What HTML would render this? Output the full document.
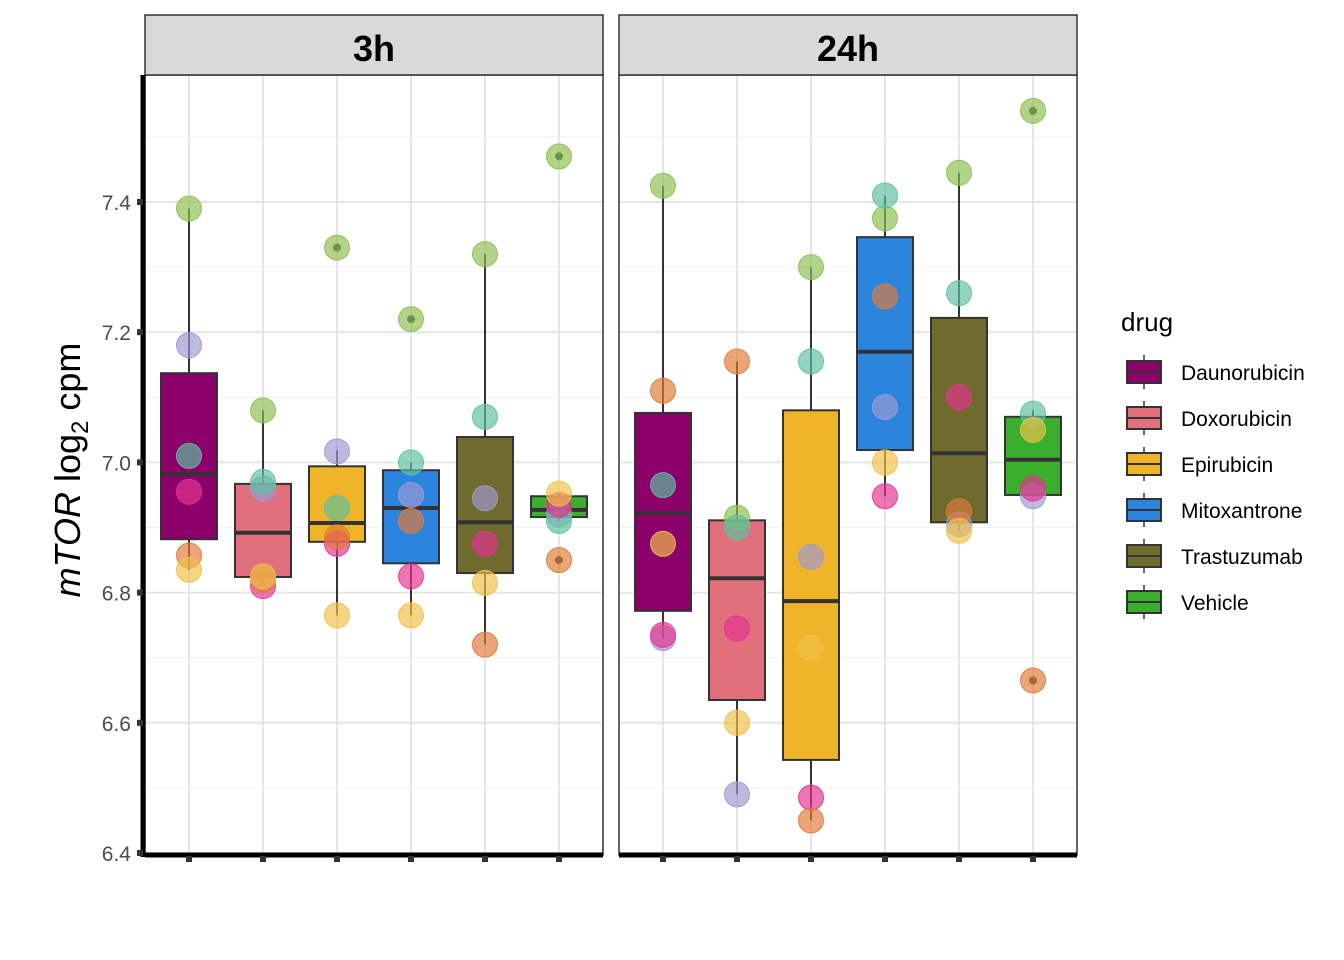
<!DOCTYPE html>
<html><head><meta charset="utf-8"><style>
html,body{margin:0;padding:0;background:#fff;}
svg{display:block;font-family:"Liberation Sans",Arial,sans-serif;}
</style></head><body>
<svg id="chart" width="1344" height="960" xmlns="http://www.w3.org/2000/svg"></svg>
<script>
const drugs = ["Daunorubicin","Doxorubicin","Epirubicin","Mitoxantrone","Trastuzumab","Vehicle"];
const drugColors = ["#8B006B","#E0707C","#F0B428","#2B85DF","#6F6B2F","#3AAF2E"];
const panels = ["3h","24h"];
const yTicks = [6.4,6.6,6.8,7.0,7.2,7.4];
// [lowWhisker, q1, median, q3, highWhisker]
const boxes3h = [[6.835,6.882,6.982,7.137,7.39],[6.81,6.824,6.892,6.967,7.08],[6.765,6.878,6.907,6.994,7.019],[6.765,6.845,6.930,6.988,7.0],[6.72,6.830,6.908,7.039,7.32],[6.91,6.916,6.927,6.948,6.952]];
const boxes24h = [[6.73,6.772,6.922,7.076,7.425],[6.49,6.635,6.822,6.911,7.155],[6.45,6.543,6.787,7.08,7.3],[6.948,7.019,7.170,7.346,7.41],[6.895,6.908,7.014,7.222,7.445],[6.948,6.95,7.004,7.07,7.08]];
const outliers3h = [[],[],[7.33],[7.22],[],[7.47,6.85]];
const outliers24h = [[],[],[],[],[],[7.54,6.665]];
const indColors = ["#8CBF4F","#9E9AD0","#5FC0A0","#E6348F","#E07B39","#F0C04A"];
const points3h = [[7.39,7.18,7.01,6.955,6.857,6.835],[7.08,6.96,6.97,6.81,6.82,6.825],[7.33,7.017,6.93,6.875,6.885,6.765],[7.22,6.95,7.0,6.825,6.91,6.765],[7.32,6.945,7.07,6.875,6.72,6.815],[7.47,6.92,6.91,6.935,6.85,6.952]];
const points24h = [[7.425,6.73,6.965,6.735,7.11,6.875],[6.915,6.49,6.9,6.745,7.155,6.6],[7.3,6.855,7.155,6.485,6.45,6.715],[7.375,7.085,7.41,6.948,7.255,7.0],[7.445,6.905,7.26,7.1,6.925,6.895],[7.54,6.948,7.075,6.96,6.665,7.05]];

const NS="http://www.w3.org/2000/svg";
const svg=document.getElementById('chart');
function el(t,a,p){const e=document.createElementNS(NS,t);for(const k in a)e.setAttribute(k,a[k]);(p||svg).appendChild(e);return e;}
const yScale=v=>853-(v-6.4)*651;
const panelX=[145,619], panelW=458, plotTop=75, plotBottom=855;
const xc=(p,i)=>panelX[p]+44+i*74;
const allBoxes=[boxes3h,boxes24h], allOut=[outliers3h,outliers24h], allPts=[points3h,points24h];

panels.forEach((pn,p)=>{
  const g=el('g',{});
  
  
  el('rect',{x:panelX[p],y:plotTop,width:panelW,height:plotBottom-plotTop,fill:'#fff'},g);
  [6.5,6.7,6.9,7.1,7.3,7.5].forEach(v=>el('line',{x1:panelX[p],x2:panelX[p]+panelW,y1:yScale(v),y2:yScale(v),stroke:'#f0f0f0','stroke-width':1},g));
  yTicks.forEach(v=>el('line',{x1:panelX[p],x2:panelX[p]+panelW,y1:yScale(v),y2:yScale(v),stroke:'#e6e6e6','stroke-width':2},g));
  drugs.forEach((d,i)=>el('line',{x1:xc(p,i),x2:xc(p,i),y1:plotTop,y2:plotBottom,stroke:'#e6e6e6','stroke-width':2},g));
  allBoxes[p].forEach((b,i)=>{
    const bg=el('g',{},g);
    
    
    const cx=xc(p,i);
    el('line',{x1:cx,x2:cx,y1:yScale(b[0]),y2:yScale(b[4]),stroke:'#333','stroke-width':2},bg);
    el('rect',{x:cx-28,y:yScale(b[3]),width:56,height:yScale(b[1])-yScale(b[3]),fill:drugColors[i],stroke:'#333','stroke-width':2},bg);
    el('line',{x1:cx-28,x2:cx+28,y1:yScale(b[2]),y2:yScale(b[2]),stroke:'#333','stroke-width':4},bg);
    allOut[p][i].forEach(o=>{const c=el('circle',{cx:cx,cy:yScale(o),r:4,fill:'#333'},bg);
      
      });
  });
  allPts[p].forEach((arr,i)=>{
    arr.forEach((v,k)=>{
      const c=el('circle',{cx:xc(p,i),cy:yScale(v),r:12.5,fill:indColors[k],'fill-opacity':0.68,stroke:indColors[k],'stroke-opacity':0.9,'stroke-width':1},g);
      
      
    });
  });
  el('rect',{x:panelX[p],y:plotTop,width:panelW,height:plotBottom-plotTop,fill:'none',stroke:'#333','stroke-width':1.5},g);
  el('rect',{x:panelX[p],y:15,width:panelW,height:60,fill:'#d9d9d9',stroke:'#333','stroke-width':1.5},g);
  const st=el('text',{x:panelX[p]+panelW/2,y:61,'text-anchor':'middle','font-size':36,'font-weight':'bold',fill:'#000'},g);
  st.textContent=pn;
  
  
  el('line',{x1:panelX[p],x2:panelX[p]+panelW,y1:855,y2:855,stroke:'#000','stroke-width':5},g);
  drugs.forEach((d,i)=>el('rect',{x:xc(p,i)-3,y:856,width:6,height:6,fill:'#333'},g));
});
const ya=el('g',{});


el('line',{x1:143,x2:143,y1:75,y2:857,stroke:'#000','stroke-width':5},ya);
yTicks.forEach(v=>{
  el('rect',{x:137,y:yScale(v)-3,width:6,height:6,fill:'#333'},ya);
  const t=el('text',{x:131,y:yScale(v)+8,'text-anchor':'end','font-size':21,fill:'#4d4d4d'},ya);
  t.textContent=v.toFixed(1);
});
const yt=el('text',{transform:'translate(80,470) rotate(-90)','text-anchor':'middle','font-size':36,fill:'#000'});


yt.innerHTML='<tspan font-style="italic">mTOR</tspan> log<tspan font-size="24" dy="8">2</tspan><tspan dy="-8"> cpm</tspan>';
const lg=el('g',{});


const lt=el('text',{x:1121,y:331,'font-size':26,fill:'#000'},lg);
lt.textContent='drug';
drugs.forEach((d,i)=>{
  const yy=372+i*46;
  const e=el('g',{},lg);
  
  
  el('line',{x1:1144,x2:1144,y1:yy-17,y2:yy+17,stroke:'#333','stroke-width':1.5},e);
  el('rect',{x:1127,y:yy-11,width:34,height:22,fill:drugColors[i],stroke:'#333','stroke-width':2},e);
  el('line',{x1:1127,x2:1161,y1:yy,y2:yy,stroke:'#333','stroke-width':2},e);
  const t=el('text',{x:1181,y:yy+8,'font-size':21,fill:'#000'},e);
  t.textContent=d;
});
</script>
</body></html>
